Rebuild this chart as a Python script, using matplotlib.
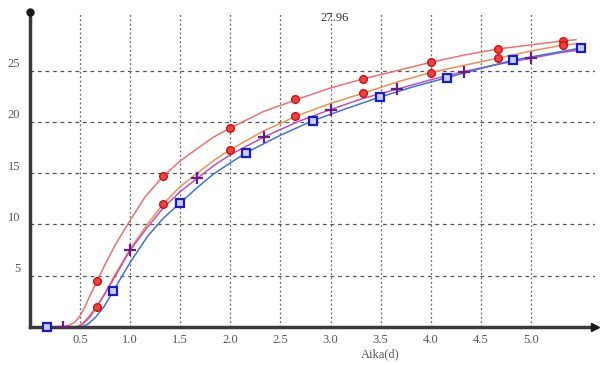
import matplotlib
matplotlib.use("Agg")
import matplotlib.pyplot as plt
import matplotlib.transforms as mtransforms

# ---- marker data ----
red1_t = [0.67, 1.33, 2.0, 2.65, 3.32, 4.0, 4.67, 5.32]
red1_y = [4.5, 14.7, 19.4, 22.2, 24.2, 25.8, 27.1, 27.9]

red2_t = [0.67, 1.33, 2.0, 2.65, 3.32, 4.0, 4.67, 5.32]
red2_y = [2.0, 12.0, 17.3, 20.6, 22.8, 24.8, 26.2, 27.5]

purple_t = [0.33, 1.0, 1.67, 2.34, 3.0, 3.66, 4.33, 5.0]
purple_y = [0.0, 7.5, 14.5, 18.5, 21.2, 23.2, 24.9, 26.2]

blue_t = [0.17, 0.83, 1.5, 2.16, 2.82, 3.49, 4.16, 4.82, 5.5]
blue_y = [0.0, 3.5, 12.1, 17.0, 20.1, 22.4, 24.3, 26.0, 27.2]

# ---- fitted curve paths ----
red1_line_t = [0.0, 0.33, 0.4, 0.45, 0.5, 0.55, 0.6, 0.67, 0.75, 0.85, 1.0, 1.15, 1.33, 1.5, 1.67, 1.83, 2.0, 2.33, 2.67, 3.0, 3.33, 3.67, 4.0, 4.33, 4.67, 5.0, 5.33, 5.45]
red1_line_y = [0.0, 0.0, 0.2, 0.5, 1.1, 2.0, 3.1, 4.5, 6.1, 8.0, 10.4, 12.7, 14.7, 16.2, 17.4, 18.5, 19.4, 21.0, 22.2, 23.3, 24.2, 25.0, 25.8, 26.5, 27.1, 27.5, 27.9, 28.0]

red2_line_t = [0.0, 0.45, 0.5, 0.55, 0.6, 0.67, 0.75, 0.83, 1.0, 1.17, 1.33, 1.5, 1.67, 1.83, 2.0, 2.33, 2.67, 3.0, 3.33, 3.67, 4.0, 4.33, 4.67, 5.0, 5.33, 5.45]
red2_line_y = [0.0, 0.0, 0.2, 0.6, 1.2, 2.0, 3.3, 4.8, 7.6, 10.0, 12.0, 13.7, 15.0, 16.2, 17.3, 19.1, 20.6, 21.8, 22.8, 23.9, 24.8, 25.5, 26.2, 26.9, 27.5, 27.6]

purple_line_t = [0.0, 0.48, 0.53, 0.6, 0.7, 0.83, 1.0, 1.17, 1.33, 1.5, 1.67, 1.83, 2.0, 2.33, 2.67, 3.0, 3.33, 3.67, 4.0, 4.33, 4.67, 5.0, 5.33, 5.5]
purple_line_y = [0.0, 0.0, 0.3, 1.0, 2.5, 4.6, 7.5, 9.7, 11.6, 13.2, 14.5, 15.7, 16.8, 18.5, 20.0, 21.2, 22.3, 23.2, 24.1, 24.9, 25.6, 26.2, 26.8, 27.0]

blue_line_t = [0.0, 0.52, 0.58, 0.65, 0.74, 0.83, 1.0, 1.17, 1.33, 1.5, 1.67, 1.83, 2.0, 2.16, 2.5, 2.82, 3.16, 3.49, 3.82, 4.16, 4.5, 4.82, 5.16, 5.5]
blue_line_y = [0.0, 0.0, 0.3, 0.9, 2.0, 3.5, 6.3, 8.8, 10.6, 12.1, 13.6, 14.9, 16.0, 17.0, 18.7, 20.1, 21.3, 22.4, 23.4, 24.3, 25.2, 26.0, 26.6, 27.2]

x_ticks = [0.5, 1.0, 1.5, 2.0, 2.5, 3.0, 3.5, 4.0, 4.5, 5.0]
x_tick_labels = ["0.5", "1.0", "1.5", "2.0", "2.5", "3.0", "3.5", "4.0", "4.5", "5.0"]
y_ticks = [5, 10, 15, 20, 25]
y_tick_labels = ["5", "10", "15", "20", "25"]

annotation_text = "27.96"
x_label = "Aika(d)"

# ---- figure ----
fig = plt.figure(figsize=(6.0, 3.65), dpi=100)
ax = fig.add_axes([0.05, 0.104, 0.9417, 0.863])
ax.set_xlim(0, 5.64)
ax.set_ylim(0, 30.7)

for s in ("top", "right"):
    ax.spines[s].set_visible(False)
for s in ("left", "bottom"):
    ax.spines[s].set_color("#3a3a3a")
    ax.spines[s].set_linewidth(2.5)

# grid
for xv in x_ticks:
    ax.axvline(xv, color="#666666", lw=0.9, ls=(0, (1.5, 2.0)), zorder=1)
for yv in y_ticks:
    ax.axhline(yv, color="#555555", lw=0.9, ls=(0, (3, 3)), zorder=1)

# curves
ax.plot(red1_line_t, red1_line_y, color="#f07070", lw=1.1, zorder=2)
ax.plot(red2_line_t, red2_line_y, color="#f09050", lw=1.1, zorder=2)
ax.plot(purple_line_t, purple_line_y, color="#c050c0", lw=1.1, zorder=2)
ax.plot(blue_line_t, blue_line_y, color="#4070e0", lw=1.1, zorder=2)

# markers
ax.plot(red1_t, red1_y, ls="none", marker="o", ms=5.5, mfc="#f04040", mec="#d01010", mew=1.0, zorder=4)
ax.plot(red2_t, red2_y, ls="none", marker="o", ms=5.5, mfc="#f04040", mec="#d01010", mew=1.0, zorder=4)
ax.plot(purple_t, purple_y, ls="none", marker="+", ms=8, mec="#6a1a8a", mew=1.6, zorder=4)
ax.plot(blue_t, blue_y, ls="none", marker="s", ms=6, mfc="#c8d0ff", mec="#1a1ad0", mew=1.6, zorder=5, clip_on=False)

# axis arrow heads
ax.plot(1, 0, marker=">", color="#1a1a1a", ms=6, transform=ax.transAxes, clip_on=False, zorder=6)
ax.plot(0, 1, marker="o", color="#1a1a1a", ms=5, transform=ax.transAxes, clip_on=False, zorder=6)

# ticks
ax.set_xticks(x_ticks)
ax.set_xticklabels(x_tick_labels)
ax.set_yticks(y_ticks)
ax.set_yticklabels(y_tick_labels)
ax.tick_params(axis="both", length=0, labelsize=9, labelcolor="#555555")
ax.tick_params(axis="x", pad=5)
ax.tick_params(axis="y", pad=7)
for lab in ax.get_xticklabels() + ax.get_yticklabels():
    lab.set_fontfamily("Liberation Serif")
offset = mtransforms.ScaledTranslation(0, 8 / 100.0, fig.dpi_scale_trans)
for lab in ax.get_yticklabels():
    lab.set_transform(lab.get_transform() + offset)

ax.text(3.04, 30.1, annotation_text, fontsize=9, color="#333333", family="Liberation Serif",
        ha="center", va="center")
fig.text(380 / 600, 1 - 354 / 365, x_label, fontsize=9, color="#555555", family="Liberation Serif",
         ha="center", va="center")

fig.savefig("out.png", dpi=100)
